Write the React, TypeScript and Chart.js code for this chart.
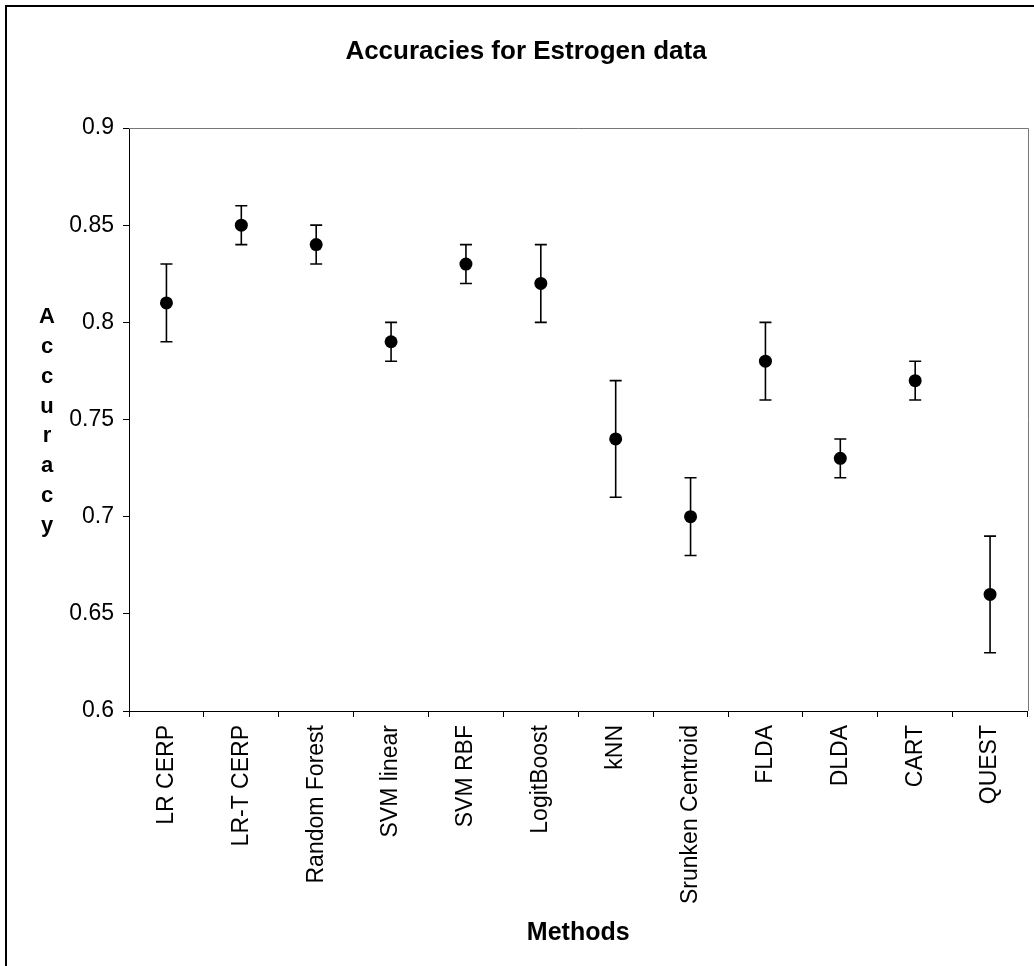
import React, { useEffect, useRef } from "react";
import { Chart, registerables } from "chart.js";

Chart.register(...registerables);

const methods = [
  "LR CERP",
  "LR-T CERP",
  "Random Forest",
  "SVM linear",
  "SVM RBF",
  "LogitBoost",
  "kNN",
  "Srunken Centroid",
  "FLDA",
  "DLDA",
  "CART",
  "QUEST",
];
const accuracy = [0.81, 0.85, 0.84, 0.79, 0.83, 0.82, 0.74, 0.7, 0.78, 0.73, 0.77, 0.66];
const lowerBound = [0.79, 0.84, 0.83, 0.78, 0.82, 0.8, 0.71, 0.68, 0.76, 0.72, 0.76, 0.63];
const upperBound = [0.83, 0.86, 0.85, 0.8, 0.84, 0.84, 0.77, 0.72, 0.8, 0.74, 0.78, 0.69];

const chartTitle = "Accuracies for Estrogen data";
const xTitle = "Methods";
const yTitle = "Accuracy";
const yMin = 0.6;
const yMax = 0.9;
const yStep = 0.05;

const FONT = '"Liberation Sans", Arial, Helvetica, sans-serif';

const decorPlugin = {
  id: "decor",
  beforeDraw(chart: any) {
    const { ctx, width, height } = chart;
    ctx.save();
    ctx.fillStyle = "#ffffff";
    ctx.fillRect(0, 0, width, height);
    ctx.strokeStyle = "#000000";
    ctx.lineWidth = 2;
    ctx.beginPath();
    ctx.moveTo(6, height + 2);
    ctx.lineTo(6, 6);
    ctx.lineTo(width + 2, 6);
    ctx.stroke();
    ctx.restore();
  },
  beforeDatasetsDraw(chart: any) {
    const { ctx, chartArea: a, scales } = chart;
    ctx.save();
    // plot frame top / right
    ctx.strokeStyle = "#777777";
    ctx.lineWidth = 1;
    ctx.beginPath();
    ctx.moveTo(a.left, Math.round(a.top) + 0.5);
    ctx.lineTo(Math.round(a.right) + 0.5, Math.round(a.top) + 0.5);
    ctx.lineTo(Math.round(a.right) + 0.5, a.bottom);
    ctx.stroke();

    // error bars
    const xs = scales.x;
    const ys = scales.y;
    ctx.strokeStyle = "#000000";
    ctx.lineWidth = 1.6;
    methods.forEach((_m, i) => {
      const px = xs.getPixelForValue(i);
      const yl = ys.getPixelForValue(lowerBound[i]);
      const yu = ys.getPixelForValue(upperBound[i]);
      ctx.beginPath();
      ctx.moveTo(px, yl);
      ctx.lineTo(px, yu);
      ctx.moveTo(px - 6, yl);
      ctx.lineTo(px + 6, yl);
      ctx.moveTo(px - 6, yu);
      ctx.lineTo(px + 6, yu);
      ctx.stroke();
    });

    // stacked y-axis title
    ctx.fillStyle = "#000000";
    ctx.font = `bold 22px ${FONT}`;
    ctx.textAlign = "center";
    ctx.textBaseline = "alphabetic";
    const letters = yTitle.split("");
    const lh = 29.9;
    const mid = (a.top + a.bottom) / 2;
    const n = letters.length;
    letters.forEach((ch, i) => {
      ctx.fillText(ch, 47, mid + 8 + (i - (n - 1) / 2) * lh);
    });
    ctx.restore();
  },
};

export default function App() {
  const canvasRef = useRef<HTMLCanvasElement | null>(null);

  useEffect(() => {
    if (!canvasRef.current) return;
    const chart = new Chart(canvasRef.current, {
      type: "line",
      data: {
        labels: methods,
        datasets: [
          {
            label: "Accuracy",
            data: accuracy,
            showLine: false,
            pointRadius: 6.5,
            pointHoverRadius: 6.5,
            pointBackgroundColor: "#000000",
            pointBorderColor: "#000000",
            pointBorderWidth: 0,
          },
        ],
      },
      options: {
        responsive: false,
        animation: false,
        devicePixelRatio: 1,
        layout: { padding: { left: 24, right: 6, top: 0, bottom: 0 } },
        plugins: {
          legend: { display: false },
          tooltip: { enabled: false },
          title: {
            display: true,
            text: chartTitle,
            color: "#000000",
            font: { family: FONT, size: 26, weight: "bold" },
            padding: { top: 36.4, bottom: 60.4 },
          },
        },
        scales: {
          x: {
            type: "category",
            offset: true,
            afterFit: (s: any) => {
              s.height = 255;
            },
            grid: {
              offset: true,
              drawOnChartArea: false,
              drawTicks: true,
              tickLength: 6,
              color: "#000000",
            },
            border: { display: true, color: "#000000", width: 1 },
            ticks: {
              autoSkip: false,
              minRotation: 90,
              maxRotation: 90,
              padding: 8,
              color: "#000000",
              font: { family: FONT, size: 23 },
            },
            title: {
              display: true,
              text: xTitle,
              color: "#000000",
              font: { family: FONT, size: 25, weight: "bold" },
              padding: { top: 0, bottom: 17.5 },
            },
          },
          y: {
            min: yMin,
            max: yMax,
            afterFit: (s: any) => {
              s.width = 105;
            },
            grid: {
              drawOnChartArea: false,
              drawTicks: true,
              tickLength: 6,
              color: "#000000",
            },
            border: { display: true, color: "#000000", width: 1 },
            ticks: {
              stepSize: yStep,
              padding: 9,
              color: "#000000",
              font: { family: FONT, size: 23 },
              callback: (v: any) => String(Number(Number(v).toFixed(2))),
            },
          },
        },
      },
      plugins: [decorPlugin],
    });
    return () => chart.destroy();
  }, []);

  return (
    <div
      style={{
        position: "fixed",
        left: 0,
        top: 0,
        width: 1034,
        height: 966,
        overflow: "hidden",
        background: "#ffffff",
      }}
    >
      <canvas
        ref={canvasRef}
        width={1034}
        height={966}
        style={{ display: "block", width: 1034, height: 966 }}
      />
    </div>
  );
}
